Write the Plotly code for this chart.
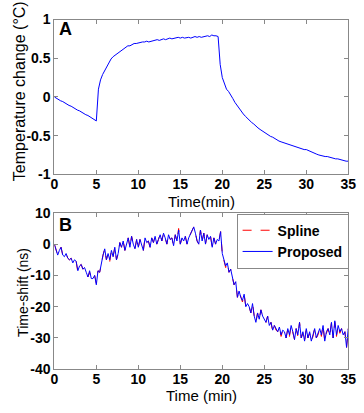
import plotly.graph_objects as go

# Panel A: temperature change, sampled every 0.25 min
time_a = [i * 0.25 for i in range(141)]
temp_change = [
    0.00, -0.02, -0.03, -0.05, -0.06, -0.08, -0.09, -0.11,
    -0.12, -0.14, -0.15, -0.17, -0.18, -0.20, -0.21, -0.23,
    -0.24, -0.26, -0.28, -0.30, -0.31, 0.10, 0.22, 0.29,
    0.34, 0.40, 0.45, 0.49, 0.52, 0.54, 0.56, 0.58,
    0.60, 0.62, 0.64, 0.66, 0.66, 0.68, 0.69, 0.69,
    0.70, 0.70, 0.71, 0.71, 0.72, 0.71, 0.72, 0.73,
    0.73, 0.74, 0.73, 0.74, 0.75, 0.74, 0.75, 0.76,
    0.75, 0.76, 0.76, 0.77, 0.76, 0.77, 0.76, 0.77,
    0.77, 0.76, 0.77, 0.78, 0.77, 0.78, 0.77, 0.78,
    0.78, 0.79, 0.78, 0.80, 0.79, 0.79, 0.78, 0.42,
    0.25, 0.16, 0.10, 0.07, 0.03, -0.02, -0.07, -0.11,
    -0.15, -0.19, -0.22, -0.25, -0.28, -0.30, -0.33, -0.35,
    -0.38, -0.40, -0.42, -0.44, -0.46, -0.48, -0.50, -0.51,
    -0.52, -0.54, -0.55, -0.57, -0.58, -0.59, -0.60, -0.61,
    -0.62, -0.63, -0.64, -0.65, -0.66, -0.66, -0.67, -0.68,
    -0.68, -0.69, -0.70, -0.72, -0.72, -0.74, -0.75, -0.76,
    -0.76, -0.77, -0.77, -0.78, -0.78, -0.79, -0.80, -0.80,
    -0.81, -0.81, -0.82, -0.83, -0.83,
]

# Panel B: time-shift, sampled every 0.2 min
time_b = [round(i * 0.2, 1) for i in range(176)]
proposed = [
    0, -1.5, -3.5, -2, -1, -3.5, -4, -3, -4.5, -5,
    -4.5, -6, -5, -5.5, -8.5, -7, -6.5, -8, -7.5, -9,
    -10.5, -8.5, -11, -11, -10, -13, -8.5, -9, -6, -3.5,
    -1.5, -5, -3, -5, -2, -4, -1, -5, -3, 0.5,
    -1, 1, -2, 0, 2, -1, 2.5, 0, -1.5, 1.5,
    -1, 1.5, 0, -2, 2, 0.5, 1, -1, 2, 0.5,
    2.5, 0, 1.5, 3, 1, 3.5, 2, 0, 3, 1.5,
    2, -0.5, 3, 1, 4.5, 0, 2, 1, 2.5, 0,
    2, 3, 4, 5.5, 3.5, 1, 0, 4.5, 1, 3.5,
    0, 3, 1.5, 2.5, -1, 2, 0, 1.5, 1, 4,
    -3, -5, -7, -6, -9, -8, -11, -13, -12, -17,
    -15, -17, -18, -16, -20, -19, -20, -22, -19, -23,
    -25, -22, -24, -21, -23, -24, -25, -23, -26, -25,
    -27.5, -26, -27, -28, -26.5, -29, -27.5, -28, -30, -27,
    -29, -26, -28, -30.5, -27, -29, -25, -30, -28, -31,
    -27, -30, -28, -31, -29, -27, -30, -28.5, -27, -29,
    -26, -31, -28, -27, -29, -25, -30, -24.5, -29, -26,
    -28, -27, -29, -28, -33, -27,
]
spline = [
    0, -1.5, -3.5, -2, -1, -3.5, -4, -3, -4.5, -5,
    -4.5, -6, -5, -5.5, -9, -7, -6.5, -8, -7.5, -9,
    -10.5, -9, -11, -11, -10, -12.5, -8.5, -9, -6, -3.5,
    -1.5, -5, -3, -5.5, -2, -4, -1, -5, -3, 0.5,
    -1, 1, -2, 0, 2, -1, 2.5, 0, -1.5, 1.5,
    -1, 1.5, 0, -2, 2, 0.5, 1, -1, 2, 0.5,
    2.5, 0, 1.5, 3.5, 1, 3.5, 2, 0, 3, 1.5,
    2, -0.5, 3, 1, 5, 0, 2, 1, 2.5, 0,
    2, 3, 4, 5.5, 3.5, 1, 0, 4.5, 1, 3.5,
    0, 3, 1.5, 2.5, -1, 2, 0, 1.5, 1, 4,
    -3, -5, -7.5, -6, -9, -8, -11, -13, -12, -17,
    -15, -17, -18.5, -16, -20, -19, -20, -22, -19, -23,
    -25, -22, -24, -21, -23, -24, -25, -23, -26, -25,
    -28, -26, -27.5, -28, -26.5, -29.5, -27.5, -28.5, -30, -27,
    -29.5, -26, -28.5, -30.5, -27, -29.5, -25, -30, -28.5, -31,
    -27, -30, -28.5, -31, -29.5, -27, -30, -29, -27, -29.5,
    -26, -31, -28.5, -27, -29.5, -25, -30, -25, -29.5, -26,
    -28.5, -27, -29.5, -28, -33, -27,
]

x_ticks = [0, 5, 10, 15, 20, 25, 30, 35]
a_ticks = [-1, -0.5, 0, 0.5, 1]
a_tick_text = ["-1", "-0.5", "0", "0.5", "1"]
b_ticks = [-40, -30, -20, -10, 0, 10]

fig = go.Figure()
fig.add_trace(go.Scatter(x=time_a, y=temp_change, mode="lines",
                         line=dict(color="#0000ff", width=1),
                         xaxis="x", yaxis="y", showlegend=False))
fig.add_trace(go.Scatter(x=time_b, y=spline, mode="lines", name="<b>Spline</b>",
                         line=dict(color="#ff0000", width=1, dash="dash"),
                         xaxis="x2", yaxis="y2"))
fig.add_trace(go.Scatter(x=time_b, y=proposed, mode="lines", name="<b>Proposed</b>",
                         line=dict(color="#0000ff", width=1),
                         xaxis="x2", yaxis="y2"))

FONT = "Liberation Sans"
font_tick = dict(family=FONT, size=14, color="black")
common = dict(showgrid=False, zeroline=False, showline=True, linecolor="#888888",
              linewidth=1, mirror="ticks", ticks="inside", ticklen=4,
              tickcolor="#888888", tickfont=font_tick)
xcommon = dict(range=[0, 35], tickvals=x_ticks,
               ticktext=["<b>%d</b>" % t for t in x_ticks],
               ticklabeloverflow="allow", ticklabelstandoff=-3, **common)

fig.update_layout(
    width=364, height=413,
    margin=dict(l=0, r=0, t=0, b=0),
    paper_bgcolor="white", plot_bgcolor="white",
    font=dict(family=FONT, color="black"),
    xaxis=dict(domain=[0.143, 0.978], anchor="y", **xcommon),
    yaxis=dict(domain=[0.581, 0.971], range=[-1, 1], tickvals=a_ticks,
               ticktext=["<b>%s</b>" % t for t in a_tick_text], anchor="x",
               **common),
    xaxis2=dict(domain=[0.143, 0.978], anchor="y2", **xcommon),
    yaxis2=dict(domain=[0.090, 0.484], range=[-40, 10], tickvals=b_ticks,
                ticktext=["<b>%d</b>" % t for t in b_ticks], anchor="x2",
                **common),
    legend=dict(x=0.979, y=0.482, xanchor="right", yanchor="top",
                bgcolor="white", bordercolor="#888888", borderwidth=1,
                font=dict(family=FONT, size=14, color="black"),
                tracegroupgap=0, itemwidth=30),
    annotations=[
        dict(text="<b>A</b>", x=0.151, y=0.978, xref="paper", yref="paper",
             xanchor="left", yanchor="top", showarrow=False,
             font=dict(family=FONT, size=18, color="black")),
        dict(text="<b>B</b>", x=0.151, y=0.484, xref="paper", yref="paper",
             xanchor="left", yanchor="top", showarrow=False,
             font=dict(family=FONT, size=18, color="black")),
        dict(text="Time(min)", x=0.56, y=1 - 201 / 413, xref="paper", yref="paper",
             xanchor="center", yanchor="middle", showarrow=False,
             font=dict(family=FONT, size=15, color="black")),
        dict(text="Time (min)", x=0.56, y=1 - 403 / 413, xref="paper", yref="paper",
             xanchor="center", yanchor="middle", showarrow=False,
             font=dict(family=FONT, size=15, color="black")),
        dict(text="Temperature change (°C)", x=16 / 364, y=1 - 86 / 413,
             xref="paper", yref="paper", xanchor="center", yanchor="middle",
             textangle=-90, showarrow=False,
             font=dict(family=FONT, size=16, color="black")),
        dict(text="Time-shift (ns)", x=19 / 364, y=1 - 296 / 413,
             xref="paper", yref="paper", xanchor="center", yanchor="middle",
             textangle=-90, showarrow=False,
             font=dict(family=FONT, size=14, color="black")),
    ],
)

fig.write_html("out.html")
